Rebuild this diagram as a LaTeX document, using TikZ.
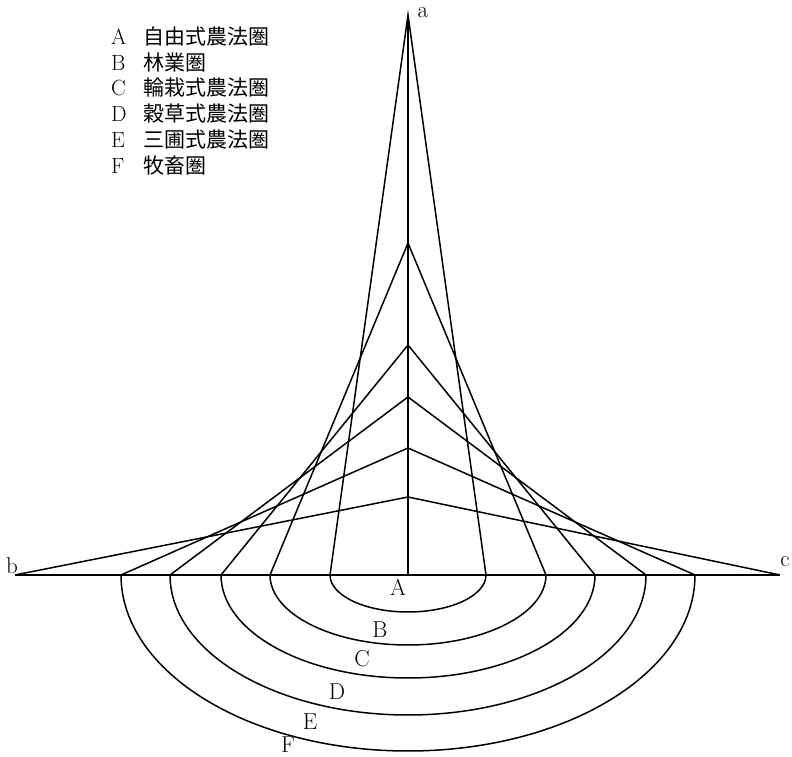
\documentclass[tikz,border=0pt]{standalone}
\usepackage{fontspec}
\newfontfamily\cjk{Noto Sans CJK JP}
\usepackage{tikz}
\usetikzlibrary{positioning}

\begin{document}
\begin{tikzpicture}[x=1pt,y=1pt,
				line/.style={black,line width=1.5pt,line join=miter},
				zone/.style={font=\fontsize{23}{26}\selectfont,inner sep=0pt},
				legend/.style={anchor=west,font=\fontsize{22}{26}\selectfont,inner sep=0pt}]
				
				\useasboundingbox (0,0) rectangle (792,757);
				
				% apex, peaks and centre
				\coordinate (a)  at (408,742);
				\coordinate (p1) at (408,514);
				\coordinate (p2) at (408,412);
				\coordinate (p3) at (408,360);
				\coordinate (p4) at (408,309);
				\coordinate (p5) at (408,260);
				\coordinate (o)  at (408,182);
				
				% baseline points
				\coordinate (b)  at (15,182);
				\coordinate (c)  at (780,182);
				\coordinate (l1) at (330,182);  \coordinate (r1) at (486,182);
				\coordinate (l2) at (270,182);  \coordinate (r2) at (546,182);
				\coordinate (l3) at (221,182);  \coordinate (r3) at (595,182);
				\coordinate (l4) at (170,182);  \coordinate (r4) at (646,182);
				\coordinate (l5) at (121,182);  \coordinate (r5) at (695,182);
				
				\draw[line] (b) -- (c);
				\draw[line] (a) -- (o);
				
				\draw[line] (l1) -- (a)  -- (r1);
				\draw[line] (l2) -- (p1) -- (r2);
				\draw[line] (l3) -- (p2) -- (r3);
				\draw[line] (l4) -- (p3) -- (r4);
				\draw[line] (l5) -- (p4) -- (r5);
				\draw[line] (b)  -- (p5) -- (c);
				
				% zone rings
				\draw[line] (l1) arc[start angle=180,end angle=360,x radius=78pt,y radius=37pt];
				\draw[line] (l2) arc[start angle=180,end angle=360,x radius=138pt,y radius=70pt];
				\draw[line] (l3) arc[start angle=180,end angle=360,x radius=187pt,y radius=103pt];
				\draw[line] (l4) arc[start angle=180,end angle=360,x radius=238pt,y radius=140pt];
				\draw[line] (l5) arc[start angle=180,end angle=360,x radius=287pt,y radius=176pt];
				
				\node[zone] (la) at (423,744) {a};
				\node[zone] (lb) at (12,191)  {b};
				\node[zone] (lc) at (785,195) {c};
				
				\node[zone] (zA) at (398,170) {A};
				\node[zone] (zB) at (380,127) {B};
				\node[zone] (zC) at (362,98)  {C};
				\node[zone] (zD) at (337,65)  {D};
				\node[zone] (zE) at (310,35)  {E};
				\node[zone] (zF) at (288,12)  {F};
				
				\node[legend] (kA) at (111,720) {\makebox[32pt][l]{A}{\cjk\fontsize{21}{26}\selectfont 自由式農法圏}};
				\node[legend] (kB) at (111,694) {\makebox[32pt][l]{B}{\cjk\fontsize{21}{26}\selectfont 林業圏}};
				\node[legend] (kC) at (111,669) {\makebox[32pt][l]{C}{\cjk\fontsize{21}{26}\selectfont 輪栽式農法圏}};
				\node[legend] (kD) at (111,643) {\makebox[32pt][l]{D}{\cjk\fontsize{21}{26}\selectfont 穀草式農法圏}};
				\node[legend] (kE) at (111,617) {\makebox[32pt][l]{E}{\cjk\fontsize{21}{26}\selectfont 三圃式農法圏}};
				\node[legend] (kF) at (111,591) {\makebox[32pt][l]{F}{\cjk\fontsize{21}{26}\selectfont 牧畜圏}};
			\end{tikzpicture}
\end{document}
